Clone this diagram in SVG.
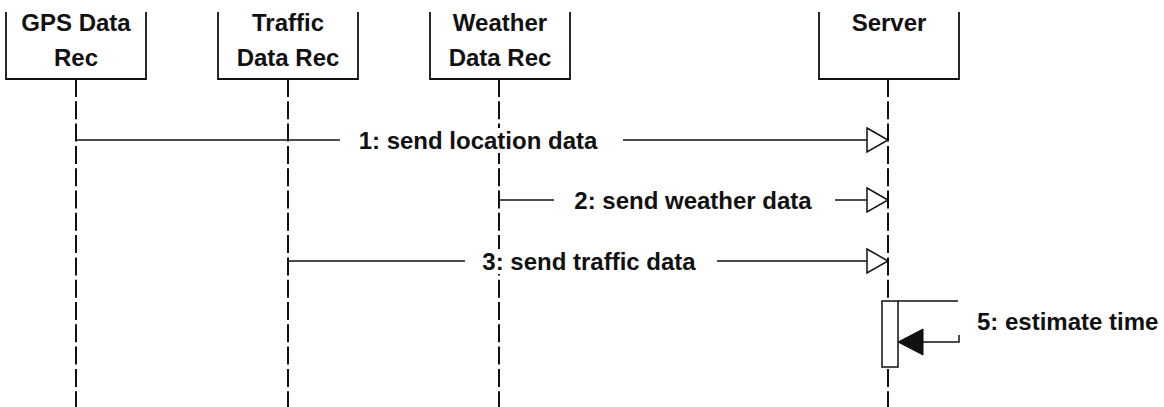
<svg xmlns="http://www.w3.org/2000/svg" width="1164" height="407" viewBox="0 0 1164 407">
  <style>
    .lbl { font-family: "Liberation Sans", Arial, sans-serif; font-weight: bold; font-size: 24px; fill: #111; text-anchor: middle; }
    .bg { fill: #fff; stroke: none; }
    .box { fill: none; stroke: #111; stroke-width: 1.8; }
    .life { stroke: #111; stroke-width: 2; stroke-dasharray: 18 4.3; fill: none; }
    .msg { stroke: #111; stroke-width: 1.5; fill: none; }
    .open { fill: #fff; stroke: #111; stroke-width: 1.5; }
    .solid { fill: #111; stroke: #111; stroke-width: 1; }
    .act { fill: #fff; stroke: #111; stroke-width: 1.5; }
  </style>

  <!-- participants with their lifelines -->
  <g id="gps">
    <line class="life" x1="76" y1="79" x2="76" y2="407"/>
    <path class="box" d="M6,12 V79 H146 V12"/>
    <text class="lbl" x="76" y="31">GPS Data</text>
    <text class="lbl" x="76" y="66">Rec</text>
  </g>

  <g id="traffic">
    <line class="life" x1="288" y1="79" x2="288" y2="407"/>
    <path class="box" d="M218,12 V79 H358 V12"/>
    <text class="lbl" x="288" y="31">Traffic</text>
    <text class="lbl" x="288" y="66">Data Rec</text>
  </g>

  <g id="weather">
    <line class="life" x1="499" y1="79" x2="499" y2="407"/>
    <path class="box" d="M430,12 V79 H570 V12"/>
    <text class="lbl" x="500" y="31">Weather</text>
    <text class="lbl" x="500" y="66">Data Rec</text>
  </g>

  <g id="server">
    <line class="life" x1="888" y1="79" x2="888" y2="407"/>
    <path class="box" d="M819,12 V79 H959 V12"/>
    <text class="lbl" x="889" y="31">Server</text>
    <rect class="act" x="882" y="301" width="16" height="66"/>
  </g>

  <!-- messages; each label sits on a white backing that hides lines beneath it -->
  <g id="connectors">
    <g id="msg1">
      <line class="msg" x1="76" y1="140" x2="340" y2="140"/>
      <line class="msg" x1="623" y1="140" x2="867" y2="140"/>
      <polygon class="open" points="867,128 888,140 867,152"/>
      <rect class="bg" x="354" y="128" width="248" height="25"/>
      <text class="lbl" x="478" y="149">1: send location data</text>
    </g>
    <g id="msg2">
      <line class="msg" x1="499" y1="200" x2="554" y2="200"/>
      <line class="msg" x1="835" y1="200" x2="867" y2="200"/>
      <polygon class="open" points="867,188 888,200 867,212"/>
      <rect class="bg" x="570" y="188" width="246" height="25"/>
      <text class="lbl" x="693" y="209">2: send weather data</text>
    </g>
    <g id="msg3">
      <line class="msg" x1="288" y1="261" x2="465" y2="261"/>
      <line class="msg" x1="717" y1="261" x2="867" y2="261"/>
      <polygon class="open" points="867,249 888,261 867,273"/>
      <rect class="bg" x="479" y="249" width="220" height="25"/>
      <text class="lbl" x="589" y="270">3: send traffic data</text>
    </g>
    <g id="msg5">
      <path class="msg" d="M898,301 H958"/>
      <path class="msg" d="M959,335 V342 H922"/>
      <polygon class="solid" points="898,342 923,329 923,355"/>
      <text class="lbl" x="977" y="330" style="text-anchor:start">5: estimate time</text>
    </g>
  </g>
</svg>
